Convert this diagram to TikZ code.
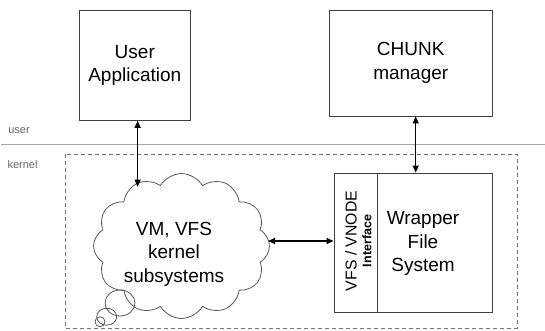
\documentclass[tikz,border=0pt]{standalone}
\usepackage{fontspec}
\setmainfont{Liberation Sans}
\usetikzlibrary{shapes.symbols,arrows.meta,positioning}
\begin{document}
\begin{tikzpicture}[x=1pt,y=-1pt,
  boxstyle/.style={draw=black!75,line width=0.9pt,rectangle,inner sep=0pt},
  bigtext/.style={font=\fontsize{19}{23.3}\selectfont,align=center,inner sep=0pt},
  smalltext/.style={font=\fontsize{11}{13}\selectfont,text=black!60,inner sep=0pt},
  link/.style={line width=1.2pt,{Triangle[length=7pt,width=6pt]}-{Triangle[length=7pt,width=6pt]}},
  bubble/.style={draw=black!65,line width=0.8pt}]
\useasboundingbox (0,0) rectangle (545,330);
% user/kernel separator
\draw[black!35,line width=1.3pt] (1,144.3) -- (545,144.3);
\node[smalltext] (ulab) at (19,131) {user};
\node[smalltext] (klab) at (22.5,165) {kernel};
% kernel dashed boundary
\draw[black!55,line width=0.8pt,dash pattern=on 4pt off 3pt] (65,154) rectangle (517,328);
% boxes
\node[boxstyle,minimum width=110.4pt,minimum height=110.3pt] (ua) at (134.8,65.2) {};
\node[bigtext] (uat) at (134.8,65.2) {User\\Application};
\node[boxstyle,minimum width=163.5pt,minimum height=106pt] (cm) at (410.75,63) {};
\node[bigtext] (cmt) at (410.75,62.9) {CHUNK\\manager};
\node[boxstyle,minimum width=43pt,minimum height=139pt] (vfs) at (355.5,242.5) {};
\node[boxstyle,minimum width=115.5pt,minimum height=139pt] (wfs) at (434.75,242.5) {};
\node[bigtext] (wfst) at (423,243.5) {Wrapper\\File\\System};
\node[rotate=90,inner sep=0pt,font=\fontsize{15.8}{18}\selectfont] (vfst) at (351,241) {VFS / VNODE};
\node[rotate=90,inner sep=0pt,font=\bfseries\fontsize{12.5}{14}\selectfont] (intt) at (366.8,241) {Interface};
% cloud
\node[cloud,draw=black!65,line width=0.8pt,cloud puffs=12,cloud puff arc=120,aspect=1.22,
      minimum width=176pt,minimum height=145pt,inner sep=0pt] (cl) at (181.5,246) {};
\node[bigtext] (clt) at (174,254.3) {VM, VFS\\kernel\\subsystems};
\draw[bubble] (120,303) ellipse [x radius=15,y radius=13];
\draw[bubble] (106.7,316.7) ellipse [x radius=10,y radius=8.5];
\draw[bubble] (100,321.7) circle [radius=5];
% connectors
\coordinate (ct) at (137.6,186.7);
\coordinate (cr) at (268,241);
\coordinate (wt) at (415.7,173);
\draw[link] (ct |- ua.south) -- (ct);
\draw[link] (wt |- cm.south) -- (wt |- wfs.north);
\draw[link] (cr) -- (cr -| vfs.west);
\end{tikzpicture}
\end{document}
